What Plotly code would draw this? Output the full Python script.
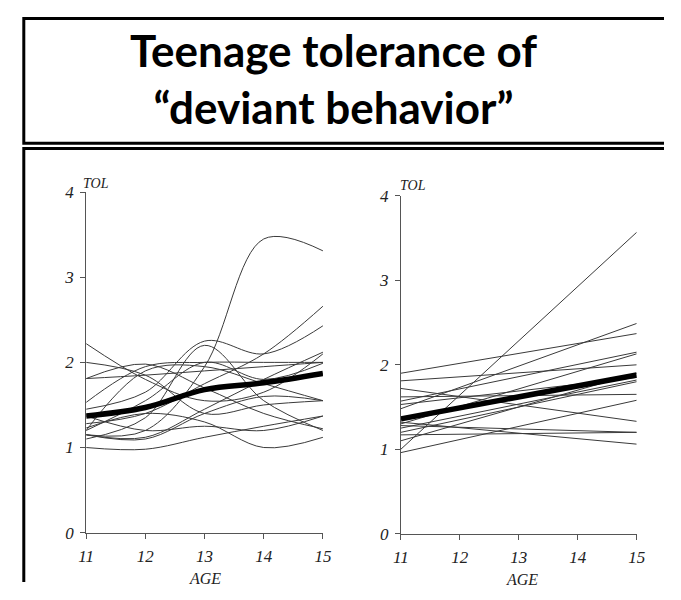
import plotly.graph_objects as go

# ---------------- data ----------------
ages = [11, 12, 13, 14, 15]

# Left panel: individual smoothed trajectories (TOL at ages 11..15)
left_curves = [
    [1.15, 1.20, 1.95, 3.45, 3.31],
    [2.22, 1.80, 1.55, 1.65, 2.10],
    [2.00, 1.85, 1.40, 1.50, 1.55],
    [1.81, 1.98, 1.70, 1.40, 1.22],
    [1.53, 1.95, 2.00, 2.00, 2.00],
    [1.45, 1.65, 2.25, 2.10, 2.43],
    [1.28, 1.40, 1.75, 2.10, 2.66],
    [1.10, 1.35, 2.20, 1.55, 1.20],
    [1.00, 0.98, 1.12, 1.25, 1.37],
    [1.23, 1.40, 1.30, 1.00, 1.12],
    [1.20, 1.90, 1.95, 1.75, 1.55],
    [1.15, 1.12, 1.45, 1.80, 2.12],
    [1.37, 1.20, 1.25, 1.20, 1.37],
    [1.20, 1.55, 2.00, 1.80, 1.99],
    [1.81, 1.85, 1.90, 1.95, 2.00],
    [1.15, 1.10, 1.40, 1.60, 1.55],
]
left_mean = [1.37, 1.47, 1.68, 1.76, 1.87]

# Right panel: individual linear trajectories (TOL at age 11 and 15)
line_ages = [11, 15]
right_start = [1.00, 1.90, 1.48, 1.81, 1.72, 1.57, 1.30, 1.62,
               1.53, 1.25, 1.20, 0.96, 1.28, 1.17, 1.32, 1.10]
right_end = [3.57, 2.37, 2.49, 2.00, 1.33, 2.15, 2.13, 1.65,
             1.85, 1.82, 1.80, 1.58, 1.20, 1.20, 1.06, 1.90]
right_mean = [1.36, 1.88]

x_ticks = [11, 12, 13, 14, 15]
y_ticks = [0, 1, 2, 3, 4]

title_text = "Teenage tolerance of<br>“deviant behavior”"
y_label = "TOL"
x_label = "AGE"

# ---------------- figure ----------------
# the page body has an 8px margin, so the figure fills the rest of the 681x600 window
OFF = 8
W, H = 681 - 2 * OFF, 600 - 2 * OFF
fig = go.Figure()

thin = dict(color="#3a3a3a", width=1)
for c in left_curves:
    fig.add_trace(go.Scatter(x=ages, y=c, mode="lines", line=dict(shape="spline", smoothing=1.0, **thin),
                             xaxis="x", yaxis="y", hoverinfo="skip"))
fig.add_trace(go.Scatter(x=ages, y=left_mean, mode="lines",
                         line=dict(shape="spline", color="black", width=5.5),
                         xaxis="x", yaxis="y", hoverinfo="skip"))

for s, e in zip(right_start, right_end):
    fig.add_trace(go.Scatter(x=line_ages, y=[s, e], mode="lines", line=thin,
                             xaxis="x2", yaxis="y2", hoverinfo="skip"))
fig.add_trace(go.Scatter(x=line_ages, y=right_mean, mode="lines",
                         line=dict(color="black", width=5.5),
                         xaxis="x2", yaxis="y2", hoverinfo="skip"))

def px_x(p):
    # window pixel -> paper fraction
    return (p - OFF) / W

def px_y(p):
    return 1 - (p - OFF) / H

tickfont = dict(family="Liberation Serif", size=17, style="italic", color="#222")
axis_common = dict(showgrid=False, zeroline=False, showline=True, linecolor="#555",
                   linewidth=1, ticks="outside", ticklen=5, tickcolor="#555",
                   tickfont=tickfont, fixedrange=True)

fig.update_layout(
    width=W, height=H,
    margin=dict(l=0, r=0, t=0, b=0),
    paper_bgcolor="white", plot_bgcolor="white",
    showlegend=False,
    xaxis=dict(domain=[px_x(80), px_x(323)], range=[11, 15], tickvals=x_ticks,
               anchor="y", ticklabelstandoff=3, **axis_common),
    yaxis=dict(domain=[px_y(541), px_y(189)], range=[0, 4], tickvals=y_ticks,
               anchor="x", ticklabelstandoff=3, **axis_common),
    xaxis2=dict(domain=[px_x(403), px_x(645)], range=[11, 15], tickvals=x_ticks,
                anchor="y2", ticklabelstandoff=3, **axis_common),
    yaxis2=dict(domain=[px_y(542), px_y(193)], range=[0, 4], tickvals=y_ticks,
                anchor="x2", ticklabelstandoff=3, **axis_common),
)

# boxes (open on the right / bottom, as they run past the picture edge)
box = dict(color="black", width=3)
xl1, xr = px_x(16), 1.0
yt1, yb1 = px_y(9.5), px_y(138.5)
fig.add_shape(type="path", xref="paper", yref="paper",
              path=f"M {xr},{yt1} L {xl1},{yt1} L {xl1},{yb1} L {xr},{yb1}", line=box)
xl2 = px_x(16)
yt2 = px_y(144)
fig.add_shape(type="path", xref="paper", yref="paper",
              path=f"M {xr},{yt2} L {xl2},{yt2} L {xl2},0", line=box)

# title
fig.add_annotation(text="<b>" + title_text + "</b>", xref="paper", yref="paper",
                   x=px_x(334), y=px_y(72), xanchor="center", yanchor="middle",
                   showarrow=False, font=dict(family="Lato", size=44, color="black"))

labfont_s = dict(family="Liberation Serif", size=14, style="italic", color="#222")
labfont = dict(family="Liberation Serif", size=16, style="italic", color="#222")
fig.add_annotation(text=y_label, xref="paper", yref="paper", x=px_x(75), y=px_y(180),
                   xanchor="left", yanchor="middle", showarrow=False, font=labfont_s)
fig.add_annotation(text=y_label, xref="paper", yref="paper", x=px_x(400), y=px_y(182),
                   xanchor="left", yanchor="middle", showarrow=False, font=labfont_s)
fig.add_annotation(text=x_label, xref="paper", yref="paper", x=px_x(202), y=px_y(588),
                   xanchor="center", yanchor="middle", showarrow=False, font=labfont)
fig.add_annotation(text=x_label, xref="paper", yref="paper", x=px_x(527), y=px_y(589),
                   xanchor="center", yanchor="middle", showarrow=False, font=labfont)

fig.write_html("out.html")
